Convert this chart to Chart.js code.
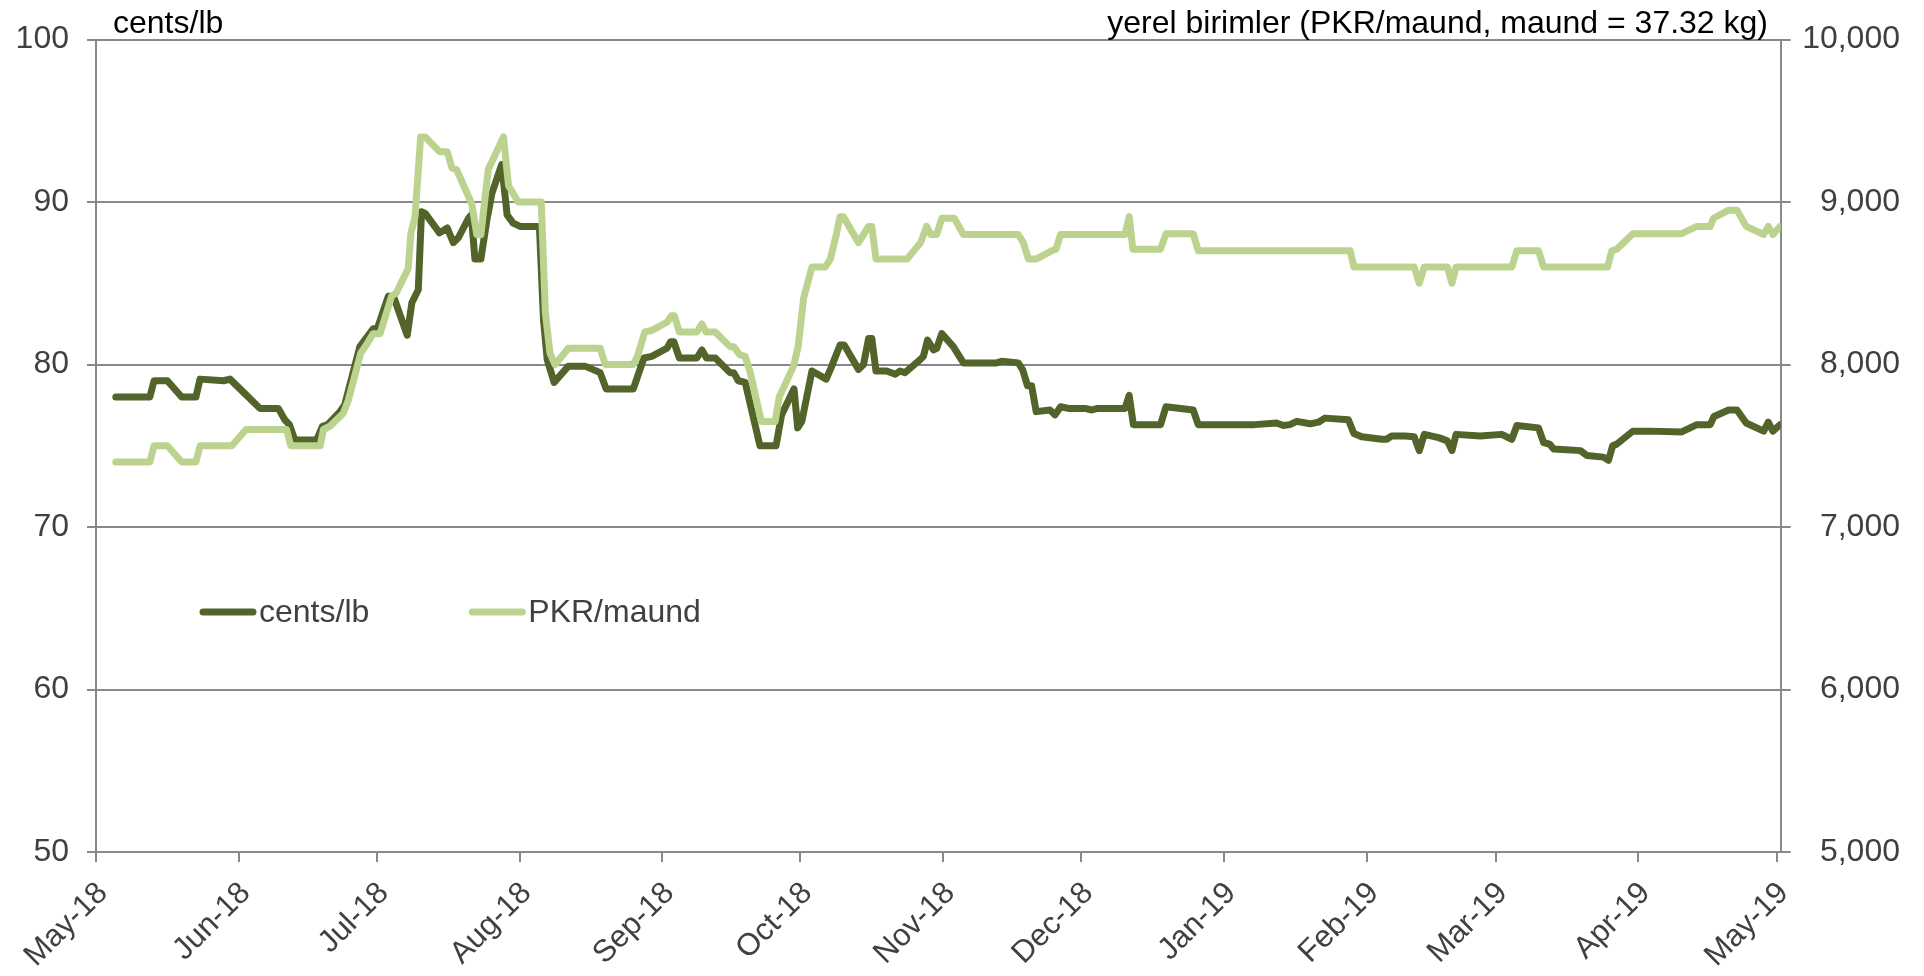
<!DOCTYPE html>
<html>
<head>
<meta charset="utf-8">
<title>cents/lb - PKR/maund</title>
<script src="https://cdn.jsdelivr.net/npm/chart.js@4.4.1/dist/chart.umd.min.js"></script>
<style>
  html, body { margin: 0; padding: 0; background: #fff; }
  #wrap { width: 1924px; height: 976px; }
</style>
</head>
<body>
<div id="wrap"><canvas id="priceChart" width="1924" height="976"></canvas></div>
<script>
// x = days since 1 May 2018
const monthDays = [0, 31, 61, 92, 123, 153, 184, 214, 245, 276, 304, 335, 365];
const monthLabels = ['May-18', 'Jun-18', 'Jul-18', 'Aug-18', 'Sep-18', 'Oct-18', 'Nov-18',
  'Dec-18', 'Jan-19', 'Feb-19', 'Mar-19', 'Apr-19', 'May-19'];

const leftTitle = 'cents/lb';
const rightTitle = 'yerel birimler (PKR/maund, maund = 37.32 kg)';

// cents/lb
const centsDays = [4.3, 11.7, 12.6, 15.5, 18.6, 21.7, 22.6, 27.7, 29.1, 32.0, 35.6, 39.6, 41.0, 42.0, 43.2,
  47.9, 49.2, 50.3, 53.0, 54.0, 57.3, 60.2, 61.1, 63.5, 64.6, 67.6, 68.6, 70.0, 70.7, 71.5, 74.6, 76.3,
  77.6, 78.7, 80.9, 81.5, 82.3, 83.6, 84.9, 86.0, 88.1, 89.3, 90.6, 92.1, 96.3, 97.2, 98.0, 99.5, 102.6,
  106.2, 109.5, 110.8, 116.7, 119.0, 120.7, 124.0, 124.8, 125.5, 126.7, 130.5, 131.6, 132.6, 134.5,
  137.7, 138.5, 139.5, 141.0, 144.2, 147.7, 148.9, 151.6, 152.4, 153.3, 155.5, 158.6, 159.8, 161.6,
  162.5, 165.6, 166.7, 167.8, 168.5, 169.4, 171.7, 173.6, 174.6, 175.7, 179.0, 179.7, 180.6, 181.9,
  182.6, 183.7, 186.2, 188.4, 195.6, 196.7, 200.3, 201.3, 202.3, 203.2, 204.2, 207.2, 208.3, 209.5,
  211.2, 214.8, 216.3, 217.5, 223.5, 224.4, 225.3, 231.2, 232.4, 238.3, 239.4, 251.7, 256.4, 257.9,
  259.3, 260.8, 263.7, 265.5, 266.9, 272.0, 273.2, 274.9, 279.3, 280.3, 281.4, 284.3, 286.3, 287.4,
  288.5, 291.6, 293.5, 294.5, 295.4, 300.6, 305.3, 307.5, 308.6, 313.3, 314.4, 315.7, 316.6, 322.4,
  323.8, 327.4, 328.5, 329.4, 330.3, 333.8, 337.6, 344.4, 347.7, 350.6, 351.4, 354.6, 356.4, 358.4,
  362.2, 363.2, 364.2, 365.8];
const centsValues = [78.0, 78.0, 79.0, 79.0, 78.0, 78.0, 79.1, 79.0, 79.1, 78.3, 77.3, 77.3, 76.6, 76.3, 75.35,
  75.35, 76.2, 76.3, 77.1, 77.5, 81.1, 82.2, 82.2, 84.2, 84.2, 81.8, 83.8, 84.6, 89.4, 89.3, 88.1, 88.4,
  87.5, 87.8, 89.0, 89.2, 86.5, 86.5, 88.9, 90.55, 92.3, 89.2, 88.7, 88.5, 88.5, 82.7, 80.3, 78.9, 79.9,
  79.9, 79.5, 78.5, 78.5, 80.4, 80.5, 81.0, 81.4, 81.4, 80.4, 80.4, 80.9, 80.4, 80.4,
  79.5, 79.5, 79.0, 78.9, 75.0, 75.0, 76.9, 78.5, 76.1, 76.5, 79.6, 79.1, 79.9, 81.2,
  81.2, 79.7, 80.0, 81.6, 81.6, 79.6, 79.6, 79.4, 79.6, 79.5, 80.3, 80.5, 81.5, 80.9,
  81.0, 81.9, 81.1, 80.1, 80.1, 80.2, 80.1, 79.65, 78.7, 78.7, 77.1, 77.2, 76.9, 77.4,
  77.3, 77.3, 77.2, 77.3, 77.3, 78.1, 76.3, 76.3, 77.4, 77.2, 76.3, 76.3, 76.4, 76.25,
  76.3, 76.5, 76.35, 76.45, 76.7, 76.6, 75.75, 75.55, 75.4, 75.4, 75.6, 75.6, 75.55, 74.7,
  75.7, 75.5, 75.3, 74.7, 75.7, 75.6, 75.7, 75.4, 76.25, 76.1, 75.2, 75.1, 74.8, 74.7,
  74.4, 74.3, 74.1, 75.0, 75.1, 75.9, 75.9, 75.85, 76.3, 76.3, 76.8, 77.2, 77.2, 76.4,
  75.9, 76.45, 75.9, 76.3];

// PKR/maund
const pkrDays = [4.3, 11.7, 12.6, 15.5, 18.6, 21.7, 22.6, 29.5, 32.6, 41.4, 42.3, 48.7, 49.4, 50.8, 53.7,
  54.8, 57.5, 58.7, 60.2, 61.7, 64.2, 65.2, 67.8, 68.4, 69.3, 70.5, 71.5, 74.6, 76.3, 77.3, 78.3, 81.6,
  82.7, 83.6, 85.2, 88.5, 89.6, 91.7, 96.7, 97.6, 98.6, 99.7, 102.6, 109.5, 110.6, 116.7, 117.6, 119.2,
  120.7, 124.0, 125.0, 125.6, 126.7, 130.5, 131.6, 132.5, 134.5, 137.7, 138.5, 139.8, 141.0, 142.1,
  144.5, 147.5, 148.4, 151.5, 152.5, 153.7, 155.5, 158.4, 159.5, 160.8, 161.6, 162.3, 165.6, 167.8,
  168.5, 169.4, 176.2, 179.1, 180.4, 181.3, 182.6, 183.7, 186.4, 188.4, 200.3, 201.4, 202.5, 204.3,
  207.6, 208.5, 209.5, 223.5, 224.4, 225.2, 231.2, 232.4, 238.3, 239.4, 272.4, 273.2, 286.3, 287.4,
  288.5, 293.5, 294.5, 295.4, 307.5, 308.6, 313.3, 314.4, 328.3, 329.2, 330.3, 333.8, 344.4, 347.7,
  350.6, 351.3, 354.6, 356.4, 358.4, 362.2, 363.2, 364.2, 365.8];
const pkrValues = [7400, 7400, 7500, 7500, 7400, 7400, 7500, 7500, 7600, 7600, 7500, 7500, 7600, 7620, 7700,
  7780, 8070, 8120, 8190, 8190, 8420, 8440, 8590, 8810, 8910, 9400, 9400, 9310, 9310, 9210, 9200, 8990,
  8800, 8800, 9200, 9400, 9100, 9000, 9000, 8320, 8070, 8000, 8100, 8100, 8000, 8000, 8050, 8200,
  8210, 8260, 8300, 8300, 8200, 8200, 8250, 8200, 8200, 8110, 8110, 8060, 8050, 7950,
  7650, 7650, 7800, 7990, 8110, 8410, 8600, 8600, 8650, 8800, 8910, 8910, 8750, 8850,
  8850, 8650, 8650, 8750, 8850, 8800, 8800, 8900, 8900, 8800, 8800, 8750, 8650, 8650,
  8700, 8710, 8800, 8800, 8910, 8710, 8710, 8805, 8805, 8700, 8700, 8600, 8600, 8500,
  8600, 8600, 8500, 8600, 8600, 8700, 8700, 8600, 8600, 8700, 8710, 8805, 8805, 8850,
  8850, 8900, 8950, 8950, 8850, 8800, 8850, 8800, 8850];

const fontFamily = "'Liberation Sans', Arial, Helvetica, sans-serif";
const tickColor = '#404040';
const gridColor = '#898989';

function toPoints(days, values) {
  return days.map((d, i) => ({ x: d, y: values[i] }));
}

// titles above the plot and the legend inside it
const overlayText = {
  id: 'overlayText',
  afterDraw(chart) {
    const c = chart.ctx;
    c.save();
    c.font = '32px ' + fontFamily;
    c.textBaseline = 'alphabetic';
    c.fillStyle = '#000';
    c.textAlign = 'left';
    c.fillText(leftTitle, 113, 33);
    c.textAlign = 'right';
    c.fillText(rightTitle, 1768, 33);

    // legend
    let x = 200;
    const y = 612;
    c.textAlign = 'left';
    c.textBaseline = 'middle';
    chart.data.datasets.forEach(ds => {
      c.strokeStyle = ds.borderColor;
      c.lineWidth = 7;
      c.lineCap = 'round';
      c.beginPath();
      c.moveTo(x + 3, y);
      c.lineTo(x + 53, y);
      c.stroke();
      c.fillStyle = tickColor;
      c.fillText(ds.label, x + 59, y + 1);
      x += 59 + c.measureText(ds.label).width + 100;
    });
    c.restore();
  }
};

const ctx = document.getElementById('priceChart').getContext('2d');
const priceChart = new Chart(ctx, {
  type: 'line',
  data: {
    datasets: [{
      label: 'cents/lb',
      data: toPoints(centsDays, centsValues),
      yAxisID: 'y',
      borderColor: '#52642a',
      borderWidth: 7,
      borderJoinStyle: 'round',
      borderCapStyle: 'round',
      pointRadius: 0,
      tension: 0,
      order: 2
    }, {
      label: 'PKR/maund',
      data: toPoints(pkrDays, pkrValues),
      yAxisID: 'y1',
      borderColor: '#bbd38f',
      borderWidth: 7,
      borderJoinStyle: 'round',
      borderCapStyle: 'round',
      pointRadius: 0,
      tension: 0,
      order: 1
    }]
  },
  options: {
    responsive: false,
    animation: false,
    devicePixelRatio: 1,
    layout: { padding: { top: 39.5, left: 0, right: 24, bottom: 0 } },
    plugins: {
      legend: { display: false },
      tooltip: { enabled: false }
    },
    scales: {
      x: {
        type: 'linear',
        min: 0,
        max: 365.9,
        afterBuildTicks: (axis) => {
          axis.ticks = monthDays.map(v => ({ value: v }));
        },
        afterFit: (axis) => {
          axis.height = 124;
          axis.paddingLeft = 0;
          axis.paddingRight = 0;
        },
        ticks: {
          autoSkip: false,
          minRotation: 45,
          maxRotation: 45,
          padding: 13,
          labelOffset: 7,
          color: tickColor,
          font: { family: fontFamily, size: 31 },
          callback: (value, index) => monthLabels[index]
        },
        grid: {
          drawOnChartArea: false,
          drawTicks: true,
          tickLength: 10,
          color: gridColor,
          lineWidth: 2
        },
        border: { color: gridColor, width: 2 }
      },
      y: {
        position: 'left',
        min: 50,
        max: 100,
        afterFit: (axis) => {
          axis.width = 96;
          axis.paddingTop = 0;
          axis.paddingBottom = 0;
        },
        ticks: {
          stepSize: 10,
          padding: 18,
          color: tickColor,
          font: { family: fontFamily, size: 32 }
        },
        grid: {
          color: gridColor,
          lineWidth: 2,
          tickLength: 9
        },
        border: { color: gridColor, width: 2 }
      },
      y1: {
        position: 'right',
        min: 5000,
        max: 10000,
        afterFit: (axis) => {
          axis.width = 119.3;
          axis.paddingTop = 0;
          axis.paddingBottom = 0;
        },
        ticks: {
          stepSize: 1000,
          padding: 19,
          crossAlign: 'far',
          color: tickColor,
          font: { family: fontFamily, size: 32 },
          callback: (value) => value.toLocaleString('en-US')
        },
        grid: {
          drawOnChartArea: false,
          color: gridColor,
          lineWidth: 2,
          tickLength: 10
        },
        border: { color: gridColor, width: 2 }
      }
    }
  },
  plugins: [overlayText]
});
</script>
</body>
</html>
